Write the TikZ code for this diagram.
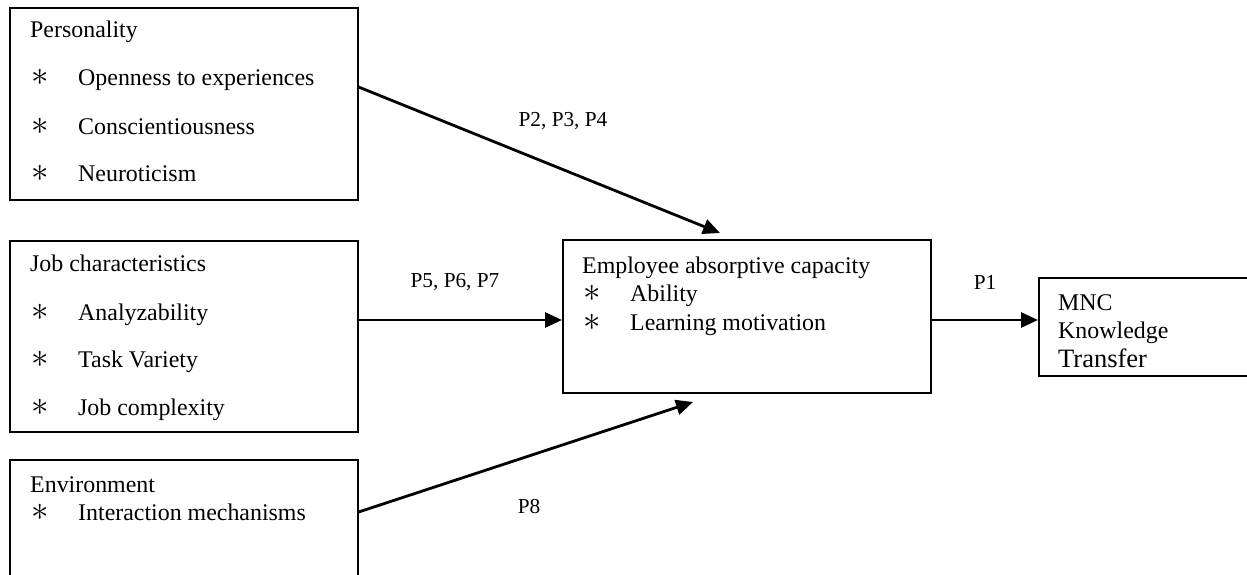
\documentclass[tikz,border=0pt]{standalone}
\usepackage{fontspec}
\setmainfont{Liberation Serif}
\usetikzlibrary{arrows.meta}
\newcommand{\bulstar}{\smash{\scalebox{1.4}{$\ast$}}}
\begin{document}
\begin{tikzpicture}[x=1pt,y=-1pt,
 box/.style={draw,line width=1.6pt,inner sep=0pt,anchor=north west},
 txt/.style={anchor=base west,inner sep=0pt,font=\fontsize{23.9}{28}\selectfont},
 bul/.style={anchor=base,inner sep=0pt,font=\fontsize{23.9}{28}\selectfont},
 lab/.style={anchor=center,inner sep=0pt,font=\fontsize{21.3}{25}\selectfont},
 arr/.style={line width=2.8pt,-{Triangle[length=17pt,width=15pt]}}]
\useasboundingbox (0,0) rectangle (1247,575);
% boxes
\node[box,minimum width=348pt,minimum height=192pt] (pers) at (9,7) {};
\node[box,minimum width=348pt,minimum height=191pt] (job) at (9,240) {};
\node[box,minimum width=348pt,minimum height=135pt] (env) at (9,459) {};
\node[box,minimum width=368pt,minimum height=153pt] (emp) at (562,239) {};
\node[box,minimum width=240pt,minimum height=98pt] (mnc) at (1038,277) {};
% personality
\node[txt] (p0) at (30,38) {Personality};
\node[bul] (pb1) at (40,86) {\bulstar};
\node[txt] (p1) at (78,86) {Openness to experiences};
\node[bul] (pb2) at (40,135) {\bulstar};
\node[txt] (p2) at (78,135) {Conscientiousness};
\node[bul] (pb3) at (40,181) {\bulstar};
\node[txt] (p3) at (78,181) {Neuroticism};
% job
\node[txt] (j0) at (30,271) {Job characteristics};
\node[bul] (jb1) at (40,320) {\bulstar};
\node[txt] (j1) at (78,320) {Analyzability};
\node[bul] (jb2) at (40,367) {\bulstar};
\node[txt] (j2) at (78,367) {Task Variety};
\node[bul] (jb3) at (40,415) {\bulstar};
\node[txt] (j3) at (78,415) {Job complexity};
% environment
\node[txt] (e0) at (30,492) {Environment};
\node[bul] (eb1) at (40,520) {\bulstar};
\node[txt] (e1) at (78,520) {Interaction mechanisms};
% employee
\node[txt] (m0) at (582,273) {Employee absorptive capacity};
\node[bul] (mb1) at (592,301) {\bulstar};
\node[txt] (m1) at (630,301) {Ability};
\node[bul] (mb2) at (592,330) {\bulstar};
\node[txt] (m2) at (630,330) {Learning motivation};
% MNC
\node[txt] (n0) at (1058,310) {MNC};
\node[txt] (n1) at (1058,338) {Knowledge};
\node[txt,font=\fontsize{26.5}{30}\selectfont] (n2) at (1058,367) {Transfer};
% labels
\node[lab] (l1) at (563,121) {P2, P3, P4};
\node[lab] (l2) at (455,282) {P5, P6, P7};
\node[lab] (l3) at (985,282) {P1};
\node[lab] (l4) at (529,507) {P8};
% arrows
\coordinate (t1) at (720,233);
\coordinate (t3) at (693,402);
\draw[arr] (pers.east |- 0,87) -- (t1);
\draw[arr] (job.east |- 0,320) -- (emp.west |- 0,320);
\draw[arr] (env.east |- 0,512) -- (t3);
\draw[arr] (emp.east |- 0,320) -- (mnc.west |- 0,320);
\end{tikzpicture}
\end{document}
